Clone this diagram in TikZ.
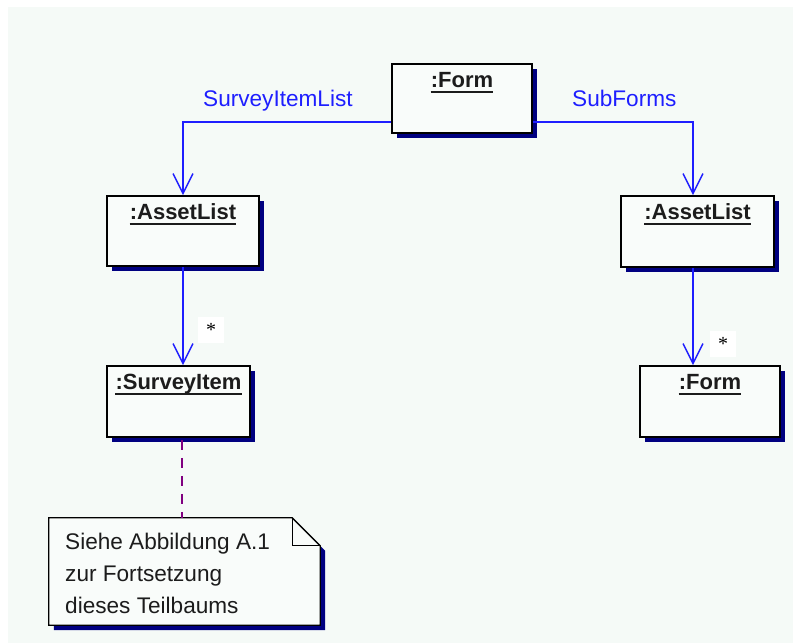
\documentclass[tikz,border=0pt]{standalone}
\usepackage{fontspec}
\setmainfont{Liberation Sans}
\newfontfamily\starfont{Liberation Serif}
\usetikzlibrary{arrows.meta,shadows,calc}
\definecolor{canvas}{HTML}{F5FAF7}
\definecolor{boxfill}{HTML}{F9FCFA}
\definecolor{shadowblue}{HTML}{000080}
\definecolor{linkblue}{HTML}{1E1EFF}
\definecolor{notepurple}{HTML}{800080}
\definecolor{ink}{HTML}{1C1C1C}

% object name, bold and underlined, set at the top of its box
\newcommand\umlobjname[3]{%
  \node[objname] (#1) at ($(#2.north)+(0,24)$) {#3};
  \draw[ink, line width=2pt] ($(#1.base west)+(0,4.5)$) -- ($(#1.base east)+(0,4.5)$);
}

\begin{document}
\begin{tikzpicture}[x=1pt,y=-1pt,
  objbox/.style={draw=black, line width=1.6pt, fill=boxfill, rectangle, inner sep=0pt,
    drop shadow={shadow xshift=5pt, shadow yshift=-5pt, fill=shadowblue, opacity=1}},
  objname/.style={font=\bfseries\fontsize{22}{26}\selectfont, text=ink, inner sep=0pt, anchor=base},
  link/.style={draw=linkblue, line width=1.5pt,
    -{Straight Barb[length=20pt,width=20pt,line width=1.5pt]}},
  rolename/.style={text=linkblue, font=\fontsize{22.6}{26}\selectfont, inner sep=0pt, anchor=base west},
  mult/.style={fill=white, minimum size=26pt, inner sep=0pt, font=\starfont\fontsize{20}{22}\selectfont},
  notetext/.style={text=ink, font=\fontsize{22.6}{26}\selectfont, inner sep=0pt, anchor=base west},
  notelink/.style={draw=notepurple, line width=1.5pt, dash pattern=on 10pt off 8pt}
]
\useasboundingbox (0,0) rectangle (793,643);
\fill[canvas] (8,7) rectangle (793,643);

% object boxes
\node[objbox, minimum width=140pt, minimum height=69pt] (form) at (462,98.5) {};
\node[objbox, minimum width=152pt, minimum height=70pt] (al1) at (183,231) {};
\node[objbox, minimum width=153pt, minimum height=71pt] (al2) at (697.5,231.5) {};
\node[objbox, minimum width=143pt, minimum height=71pt] (si) at (178.5,401.5) {};
\node[objbox, minimum width=140pt, minimum height=71pt] (f2) at (710,401.5) {};

\umlobjname{formname}{form}{:Form}
\umlobjname{al1name}{al1}{:AssetList}
\umlobjname{al2name}{al2}{:AssetList}
\umlobjname{siname}{si}{:SurveyItem}
\umlobjname{f2name}{f2}{:Form}

% links
\draw[link] ($(form.south west)+(0,-12)$) -| (al1.north);
\draw[link] ($(form.south east)+(0,-12)$) -| ($(al2.north)+(-4.5,0)$);
\draw[link] (al1.south) -- (al1.south |- si.north);
\draw[link] ($(al2.south)+(-4.5,0)$) -- ($(al2.south |- f2.north)+(-4.5,0)$);

\node[rolename] (r1) at (203,106) {SurveyItemList};
\node[rolename] (r2) at (572,106) {SubForms};

\node[mult] (m1) at (211,330) {*};
\node[mult] (m2) at (723,344) {*};

% note with folded corner
\node[minimum width=271pt, minimum height=107pt, inner sep=0pt] (note) at (184.5,571.5) {};
\fill[shadowblue]
  ($(note.north west)+(5,5)$) -- ($(note.north east)+(-23,5)$) -- ($(note.north east)+(5,33)$)
  -- ($(note.south east)+(5,5)$) -- ($(note.south west)+(5,5)$) -- cycle;
\filldraw[fill=boxfill, draw=black, line width=1.3pt, line join=miter]
  (note.north west) -- ($(note.north east)+(-28,0)$) -- ($(note.north east)+(0,28)$)
  -- (note.south east) -- (note.south west) -- cycle;
\draw[black, line width=1.3pt]
  ($(note.north east)+(-28,0)$) -- ($(note.north east)+(-28,28)$) -- ($(note.north east)+(0,28)$);
\node[notetext] (n1) at (65,549) {Siehe Abbildung A.1};
\node[notetext] (n2) at (65,581) {zur Fortsetzung};
\node[notetext] (n3) at (65,613) {dieses Teilbaums};

\draw[notelink] ($(si.south)+(3.5,2)$) -- ($(si.south |- note.north)+(3.5,0)$);
\end{tikzpicture}
\end{document}
